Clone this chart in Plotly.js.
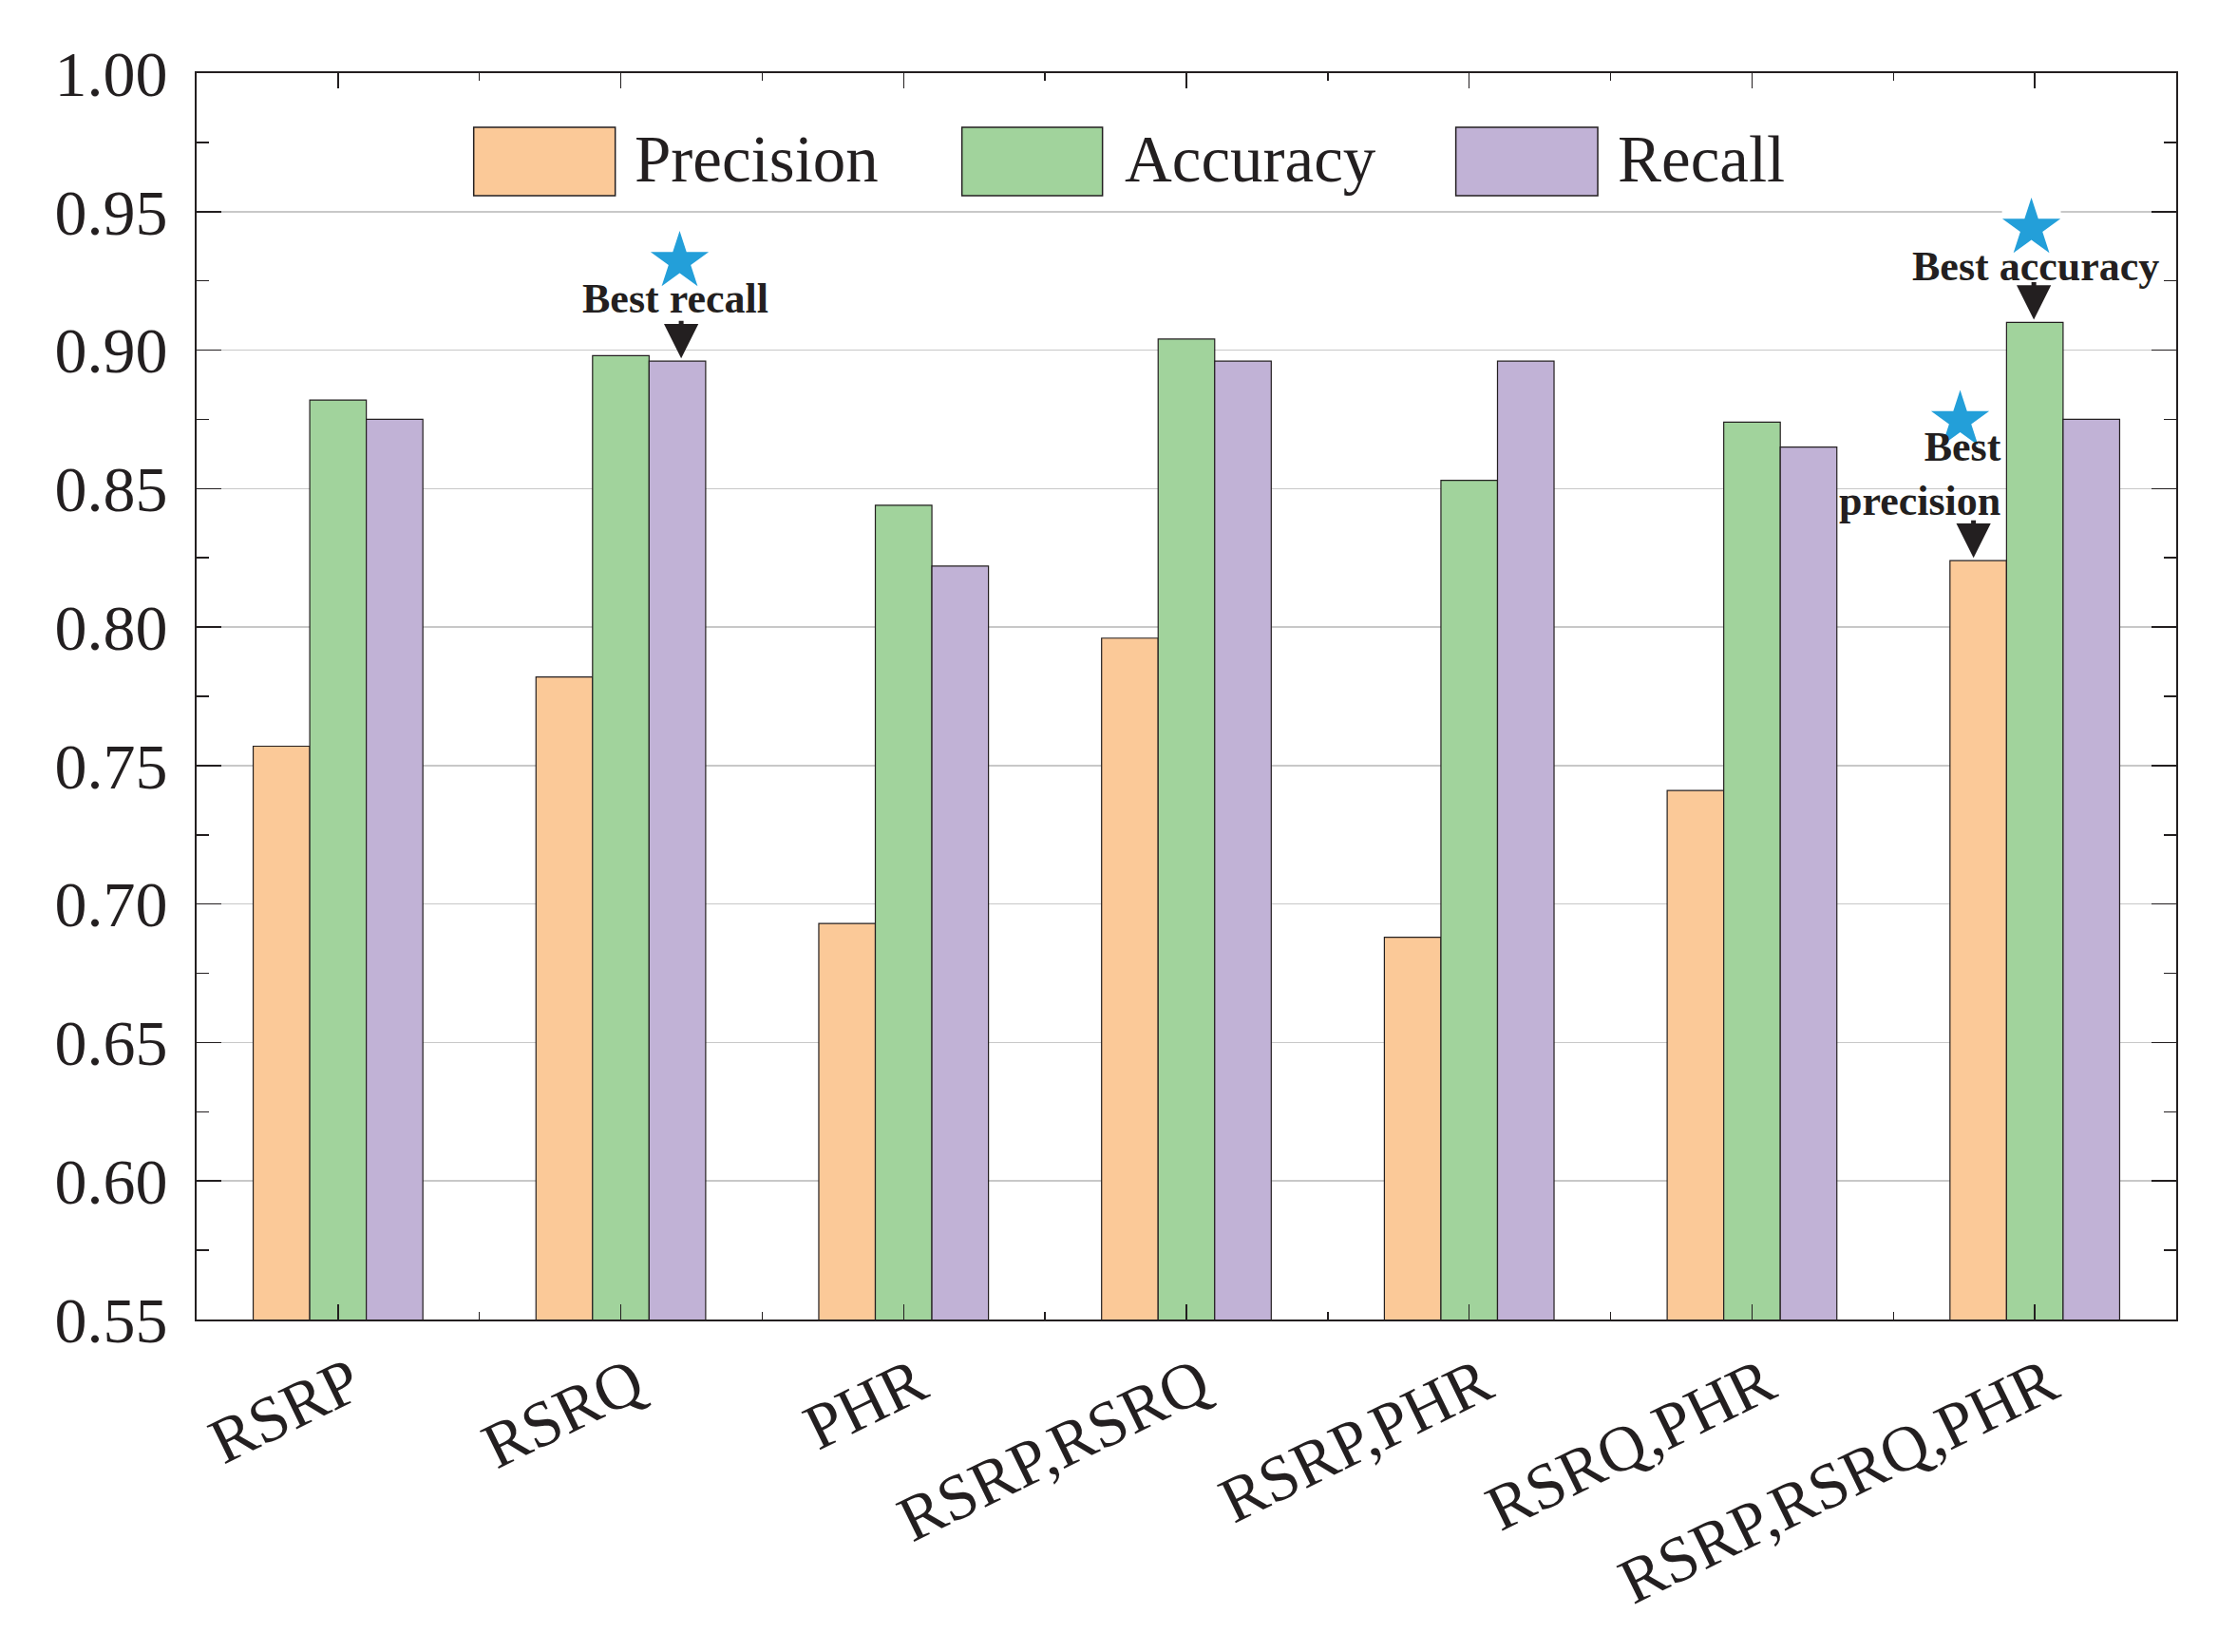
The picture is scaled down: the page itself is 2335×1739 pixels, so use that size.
<!DOCTYPE html>
<html><head><meta charset="utf-8">
<script src="https://cdn.plot.ly/plotly-3.0.1.min.js"></script>
<style>html,body{margin:0;padding:0;background:#fff;}#chart{width:2335px;height:1739px;}</style>
</head><body><div id="chart"></div>
<script>
// ---- data ----
const categories = ['RSRP', 'RSRQ', 'PHR', 'RSRP,RSRQ', 'RSRP,PHR', 'RSRQ,PHR', 'RSRP,RSRQ,PHR'];
const seriesNames = ['Precision', 'Accuracy', 'Recall'];
const precision = [0.757, 0.782, 0.693, 0.796, 0.688, 0.741, 0.824];
const accuracy  = [0.882, 0.898, 0.844, 0.904, 0.853, 0.874, 0.910];
const recall    = [0.875, 0.896, 0.822, 0.896, 0.896, 0.865, 0.875];
const seriesColors = ['#FBC998', '#A1D39C', '#C1B2D6'];
// highlighted "best" bars: series index, category index
const bestSeries   = [2, 1, 0];
const bestCategory = [1, 6, 6];
const bestLabels   = ['Best recall', 'Best accuracy', 'Best<br>precision'];
// star marker positions
const starX = [1.208, 5.988, 5.736];
const starY = [0.932, 0.944, 0.8746];

// ---- build ----
const ink = '#231f20';
const font = "'Liberation Serif', 'Times New Roman', Times, serif";
const xIndex = categories.map((_, i) => i);
const seriesValues = [precision, accuracy, recall];
const groupOffset = [-0.2, 0, 0.2];

const traces = seriesNames.map((name, s) => ({
  type: 'bar', name: name, x: xIndex, y: seriesValues[s],
  marker: {color: seriesColors[s], line: {color: ink, width: 1.2}},
  showlegend: false, hoverinfo: 'skip'
}));
traces.push({
  type: 'scatter', mode: 'markers', x: starX, y: starY,
  marker: {symbol: 'star', size: 46, color: '#239FD9', line: {width: 0}},
  showlegend: false, hoverinfo: 'skip', cliponaxis: false
});

const annotations = [];
const shapes = [];
// arrows to best bars
const arrowShift = [4, -1, -5];
bestSeries.forEach((s, k) => {
  const c = bestCategory[k];
  annotations.push({
    x: c + groupOffset[s], y: seriesValues[s][c], xref: 'x', yref: 'y',
    text: '', showarrow: true, ax: 0, ay: -44, arrowhead: 2, arrowsize: 1.45,
    arrowwidth: 5, arrowcolor: ink, standoff: 3, xshift: arrowShift[k]
  });
});
// labels above the arrows
const labelXShift  = [-2, 1, 26];
const labelYShift  = [39, 32, 36];
const labelXAnchor = ['center', 'center', 'right'];
bestSeries.forEach((s, k) => {
  const c = bestCategory[k];
  annotations.push({
    x: c + groupOffset[s], y: seriesValues[s][c], xref: 'x', yref: 'y',
    text: '<b>' + bestLabels[k] + '</b>', showarrow: false, align: 'right',
    xanchor: labelXAnchor[k], yanchor: 'bottom',
    xshift: labelXShift[k], yshift: labelYShift[k],
    font: {family: font, size: 44, color: ink}
  });
});

// white break of gridline behind the accuracy star
shapes.push({type: 'rect', xref: 'x', yref: 'y', x0: starX[1] - 0.104, x1: starX[1] + 0.104,
  y0: 0.947, y1: 0.953, fillcolor: '#ffffff', line: {width: 0}, layer: 'between'});

// custom legend with large swatches
const legBoxX0 = [0.13997, 0.38659, 0.63610];
const legBoxX1 = [0.21146, 0.45761, 0.70779];
const legTextX = [0.2204, 0.4679, 0.7170];
seriesNames.forEach((name, s) => {
  shapes.push({type: 'rect', xref: 'paper', yref: 'paper', x0: legBoxX0[s], x1: legBoxX1[s],
    y0: 0.9017, y1: 0.9566, fillcolor: seriesColors[s], line: {color: ink, width: 1.5}, layer: 'above'});
  annotations.push({xref: 'paper', yref: 'paper', x: legTextX[s], y: 0.9306, text: name,
    showarrow: false, xanchor: 'left', yanchor: 'middle', font: {family: font, size: 69, color: ink}});
});

const layout = {
  width: 2335, height: 1739,
  margin: {l: 207, r: 44, t: 77, b: 350, pad: 0},
  paper_bgcolor: '#ffffff', plot_bgcolor: '#ffffff',
  font: {family: font, color: ink},
  barmode: 'group', bargap: 0.4, bargroupgap: 0,
  xaxis: {
    range: [-0.5, 6.5], tickmode: 'array', tickvals: xIndex, ticktext: categories,
    tickangle: -26, ticks: 'inside', ticklen: 16, tickwidth: 1.5, tickcolor: ink,
    showline: true, mirror: 'allticks', linecolor: ink, linewidth: 2,
    showgrid: false, zeroline: false, tickfont: {family: font, size: 68, color: ink},
    ticklabelstandoff: 0, ticklabelshift: 14,
    minor: {tick0: 0.5, dtick: 1, ticks: 'inside', ticklen: 8, tickwidth: 1.5, tickcolor: ink, showgrid: false}
  },
  yaxis: {
    range: [0.55, 1.0], tick0: 0.55, dtick: 0.05, tickformat: '.2f',
    ticks: 'inside', ticklen: 26, tickwidth: 1.5, tickcolor: ink,
    showline: true, mirror: 'allticks', linecolor: ink, linewidth: 2,
    showgrid: true, gridcolor: '#c8c8c8', gridwidth: 1.5, zeroline: false,
    tickfont: {family: font, size: 68, color: ink}, ticklabelstandoff: 15,
    minor: {dtick: 0.025, ticks: 'inside', ticklen: 13, tickwidth: 1.5, tickcolor: ink, showgrid: false}
  },
  annotations: annotations, shapes: shapes
};
Plotly.newPlot('chart', traces, layout, {staticPlot: true, displayModeBar: false});
</script></body></html>
